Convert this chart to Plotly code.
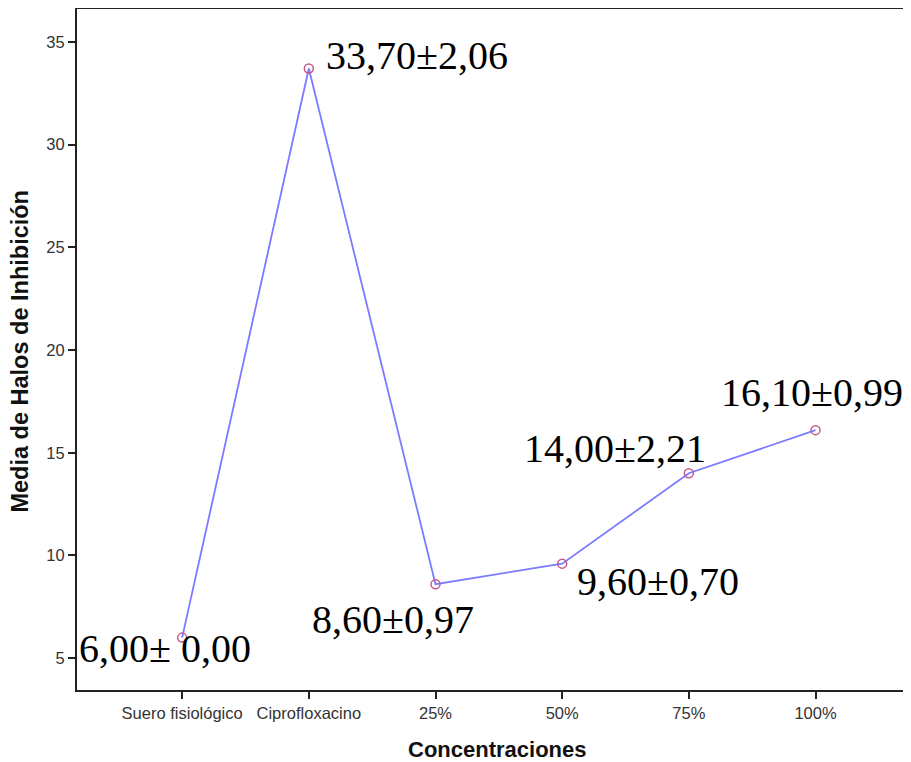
import plotly.graph_objects as go

categories = ["Suero fisiológico", "Ciprofloxacino", "25%", "50%", "75%", "100%"]
means = [6.00, 33.70, 8.60, 9.60, 14.00, 16.10]
labels = ["6,00± 0,00", "33,70±2,06", "8,60±0,97", "9,60±0,70", "14,00±2,21", "16,10±0,99"]
label_shift_x = [-17, 108, -43, 96, -74, -4]
label_shift_y = [-11, 13, -35, -18, 25, 38]

xpos = list(range(len(categories)))

fig = go.Figure()
fig.add_trace(go.Scatter(
    x=xpos, y=means, mode="lines+markers",
    line=dict(color="#7b7bff", width=1.8),
    marker=dict(symbol="circle-open", size=9, color="#c8578f", line=dict(width=1.5, color="#c8578f")),
    hoverinfo="skip", showlegend=False,
))

for i, (xv, yv, t) in enumerate(zip(xpos, means, labels)):
    fig.add_annotation(x=xv, y=yv, text=t, showarrow=False,
                       xanchor="center", yanchor="middle",
                       xshift=label_shift_x[i], yshift=label_shift_y[i],
                       font=dict(family="Liberation Serif, Times New Roman, serif", size=40, color="black"))

fig.add_annotation(xref="paper", yref="paper", x=0, y=0.497, xshift=-57,
                   text="<b>Media de Halos de Inhibición</b>", textangle=-90,
                   showarrow=False, xanchor="center", yanchor="middle",
                   font=dict(family="Liberation Sans, Arial, sans-serif", size=23.5, color="#111"))
fig.add_annotation(xref="paper", yref="paper", x=0.5066, y=0, yshift=-59,
                   text="<b>Concentraciones</b>",
                   showarrow=False, xanchor="center", yanchor="middle",
                   font=dict(family="Liberation Sans, Arial, sans-serif", size=22, color="#111"))

# page body has an 8px margin, so the figure is sized/offset to fit the 911x762 window
fig.update_layout(
    width=903, height=754,
    margin=dict(l=69, r=3, t=1, b=72),
    paper_bgcolor="white", plot_bgcolor="white",
    font=dict(family="Liberation Sans, Arial, sans-serif", color="#333"),
)
fig.update_xaxes(
    range=[-0.83, 5.73], tickvals=xpos, ticktext=categories, automargin=False,
    showline=True, linecolor="#222", linewidth=2, mirror=True,
    ticks="outside", ticklen=7, tickwidth=1.5, tickcolor="#222",
    showgrid=False, zeroline=False,
    tickfont=dict(size=16.5, color="#333"),
)
fig.update_yaxes(
    range=[3.45, 36.6], tickvals=[5, 10, 15, 20, 25, 30, 35], automargin=False,
    showline=True, linecolor="#222", linewidth=2, mirror=True,
    ticks="outside", ticklen=7, tickwidth=1.5, tickcolor="#222",
    showgrid=False, zeroline=False,
    tickfont=dict(size=16.5, color="#333"),
)

fig.write_html("out.html")
